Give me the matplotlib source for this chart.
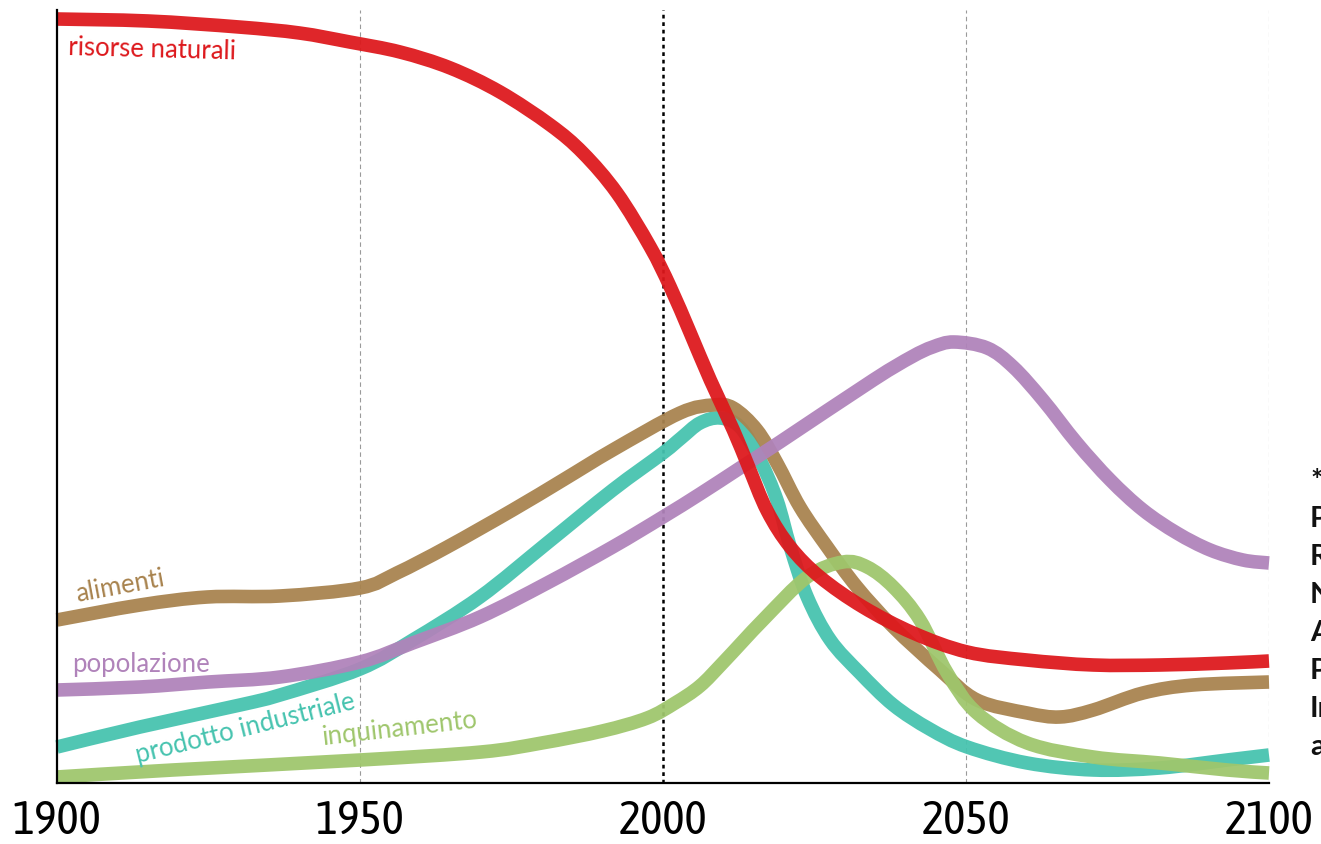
import os
import numpy as np
import matplotlib.pyplot as plt
from matplotlib import font_manager
from matplotlib.font_manager import FontProperties
from matplotlib.path import Path
from matplotlib.patches import PathPatch

# livelli (unità arbitrarie, 0 = asse orizzontale)
anni_risorse = [1900, 1915, 1930, 1940, 1948.3, 1956.6, 1964.9, 1973.1, 1981.4, 1986.8, 1992.4,
                1997.9, 2001.2, 2004.5, 2007.8, 2011.6, 2014, 2017.2, 2021, 2025.9, 2033,
                2041.3, 2050.2, 2060, 2071, 2082, 2093, 2100]
risorse = [764, 762, 756, 750, 741, 731, 715, 691, 658, 630, 590,
           536, 496, 450, 403, 353, 318, 272, 236, 206, 176,
           150, 131, 123, 118, 118, 120, 122]

anni_popolazione = [1900, 1913.7, 1925, 1936.8, 1950, 1958.7, 1969.8, 1980.9, 1991.7, 2000,
                    2006.1, 2012.7, 2019.3, 2034.7, 2041, 2044.5, 2048, 2053.5, 2057.8, 2062.7,
                    2068.3, 2073.8, 2079.2, 2084.8, 2090.3, 2095.7, 2100]
popolazione = [93, 96, 101, 106, 121, 140, 166, 200, 236, 266,
               289, 315, 341, 403, 426, 436, 441, 435, 416, 383,
               340, 303, 273, 250, 233, 223, 220]

anni_alimenti = [1900, 1913.7, 1924.8, 1936.8, 1950, 1956.1, 1964.4, 1975.2, 1983.5, 1991.7,
                 2002.8, 2008.3, 2011.6, 2015.5, 2018.8, 2022.6, 2027.1, 2032, 2038, 2045.7,
                 2051.8, 2060.1, 2065.5, 2071, 2079.2, 2087.5, 2100]
alimenti = [163, 178, 186, 187, 195, 210, 236, 273, 303, 333,
            370, 378, 375, 353, 320, 276, 236, 196, 156, 113,
            83, 70, 66, 73, 90, 98, 101]

anni_prodotto = [1900, 1913.7, 1930.2, 1936.8, 1950, 1958.7, 1969.8, 1980.9, 1991.7, 2000,
                 2003, 2006.1, 2009.4, 2012.7, 2016, 2018.8, 2021, 2023.8, 2027.6, 2032.5,
                 2038, 2044, 2050.2, 2060.1, 2071, 2082, 2093.1, 2100]
prodotto = [36, 56, 78, 88, 114, 143, 186, 240, 293, 330,
            345, 360, 365, 356, 323, 283, 236, 186, 143, 110,
            78, 54, 36, 20, 13, 15, 23, 28]

anni_inquinamento = [1900, 1919.1, 1950, 1970, 1980, 1990, 1997.4, 2002, 2006.1, 2010, 2016.5,
                     2023.8, 2029.7, 2033.7, 2038, 2042.4, 2046.9, 2051.8, 2060.1,
                     2071, 2082, 2093.1, 2100]
inquinamento = [6, 13, 23, 31, 40, 52, 65, 80, 97, 121, 163,
                206, 221, 216, 196, 163, 110, 70, 40,
                26, 20, 13, 10]

anni_tick = [1900, 1950, 2000, 2050, 2100]


def trova(*nomi):
    files = font_manager.findSystemFonts()
    for n in nomi:
        for f in files:
            if os.path.basename(f).lower() == n.lower():
                return f
    return None


f_tick = trova('PTSansNarrow-Regular.ttf', 'AsapCondensed-Regular.ttf', 'DejaVuSansCondensed.ttf')


def curva(xs, ys):
    # spline di Catmull-Rom passante per i punti letti, come tracciato Bezier
    p = np.column_stack([xs, ys]).astype(float)
    p = np.vstack([p[0], p, p[-1]])
    verts = [p[1]]
    codes = [Path.MOVETO]
    for i in range(1, len(p) - 2):
        c1 = p[i] + (p[i + 1] - p[i - 1]) / 6
        c2 = p[i + 1] - (p[i + 2] - p[i]) / 6
        verts += [c1, c2, p[i + 1]]
        codes += [Path.CURVE4] * 3
    return Path(verts, codes)


fig = plt.figure(figsize=(13.21, 8.44), dpi=100)
ax = fig.add_axes([57 / 1321, 61 / 844, 1212 / 1321, 773 / 844])

for x in [1950, 2050, 2100]:
    ax.axvline(x, color='#9a9a9a', lw=0.8, dashes=(4, 3), zorder=1)
ax.axvline(2000, color='black', lw=1.8, dashes=(1.5, 1.5), zorder=1)

serie = [
    (anni_prodotto, prodotto, '#46c3af'),
    (anni_alimenti, alimenti, '#a8834e'),
    (anni_popolazione, popolazione, '#b083ba'),
    (anni_inquinamento, inquinamento, '#9fc66c'),
    (anni_risorse, risorse, '#dd181c'),
]
for xs, ys, c in serie:
    ax.add_patch(PathPatch(curva(xs, ys), fill=False, edgecolor=c, lw=9.8, alpha=0.94,
                           joinstyle='round', capstyle='butt', clip_on=False, zorder=2))

ax.set_xlim(1900, 2100)
ax.set_ylim(0, 773)
ax.set_yticks([])
ax.set_xticks(anni_tick)
ax.set_xticklabels([str(a) for a in anni_tick])
for t in ax.get_xticklabels():
    t.set_fontproperties(FontProperties(fname=f_tick, size=34))
ax.tick_params(axis='x', length=0, pad=11)
for s in ['top', 'right']:
    ax.spines[s].set_visible(False)
ax.spines['left'].set_linewidth(1.6)
ax.spines['bottom'].set_linewidth(1.6)

etichetta = dict(family='Lato', fontsize=18.5, ha='left', va='baseline', rotation_mode='anchor')
ax.text(1901.8, 728, 'risorse naturali', color='#dd181c', rotation=-1.5, **etichetta)
ax.text(1903.3, 181, 'alimenti', color='#a8834e', rotation=10.5, **etichetta)
ax.text(1902.5, 111, 'popolazione', color='#b083ba', rotation=0, **etichetta)
ax.text(1913.4, 20, 'prodotto industriale', color='#46c3af', rotation=14, **etichetta)
ax.text(1943.9, 38, 'inquinamento', color='#9fc66c', rotation=6.5, **etichetta)

righe = ['*', 'Popolazione', 'Risorse', 'Naturali', 'Alimenti', 'Prodotto',
         'Inquinamento', 'ambiente']
basi = [489, 527, 565, 603, 641, 679, 717, 755]
for r, b in zip(righe, basi):
    fig.text(1310 / 1321, 1 - b / 844, r, family='Lato', weight='bold', fontsize=21,
             color='#111111', ha='left', va='baseline')

fig.savefig('out.png', dpi=100)
